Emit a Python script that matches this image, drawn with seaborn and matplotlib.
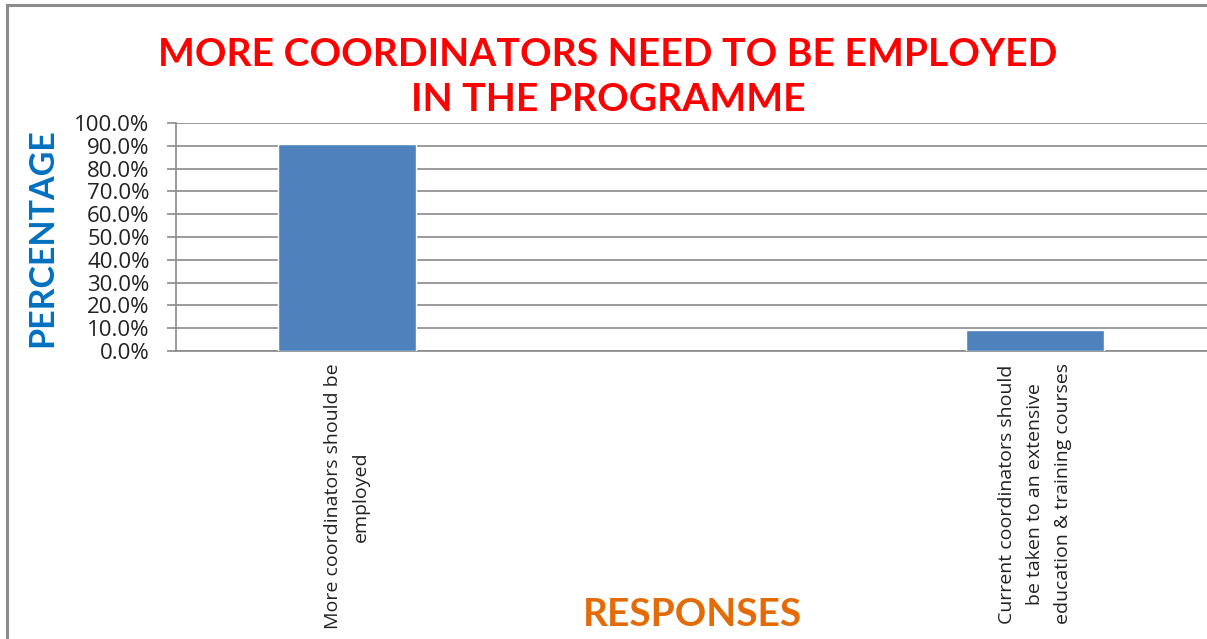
import matplotlib
matplotlib.use("Agg")
import matplotlib.pyplot as plt
from matplotlib.ticker import PercentFormatter, MultipleLocator
from matplotlib.patches import Rectangle
import seaborn as sns
import pandas as pd

# Survey responses and their share of respondents
responses = [
    "More coordinators should be\nemployed",
    "Current coordinators should\nbe taken to an extensive\neducation & training courses",
]
percentages = [90.9, 9.1]

title = "MORE COORDINATORS NEED TO BE EMPLOYED\nIN THE PROGRAMME"
x_label = "RESPONSES"
y_label = "PERCENTAGE"

df = pd.DataFrame({"response": responses, "pct": percentages})

sns.set_theme(style="white")
plt.rcParams["font.family"] = ["Lato", "DejaVu Sans"]

W, H = 1207, 639
fig = plt.figure(figsize=(W / 100, H / 100), dpi=100)

# outer chart frame
fig.patches.append(Rectangle((7 / W, -0.01), 1.2, 1 - 5 / H + 0.01, transform=fig.transFigure,
                             fill=False, edgecolor="#8c8c8c", linewidth=2.2, zorder=0))

ax = fig.add_axes([176 / W, 1 - 351 / H, (W - 176) / W, (351 - 123) / H])

sns.barplot(data=df, x="response", y="pct", color="#4F81BD", width=0.2,
            saturation=1, ax=ax, zorder=3)

ax.set_xlim(-0.2485, 1.25)
ax.set_ylim(0, 100)
ax.yaxis.set_major_locator(MultipleLocator(10))
ax.yaxis.set_major_formatter(PercentFormatter(decimals=1))
ax.grid(axis="y", color="#8a8a8a", linewidth=1.2, zorder=0)
ax.grid(axis="x", visible=False)

for side in ["top", "right"]:
    ax.spines[side].set_visible(False)
ax.spines["left"].set_color("#8a8a8a")
ax.spines["left"].set_linewidth(1.2)
ax.spines["bottom"].set_color("#8a8a8a")
ax.spines["bottom"].set_linewidth(1.2)

tick_font = ["Open Sans", "DejaVu Sans"]
ax.tick_params(axis="y", left=True, length=6.5, width=1.2, color="#8a8a8a",
               labelcolor="#222222", pad=12.5)
ax.tick_params(axis="x", bottom=False, labelcolor="#222222", pad=3)
for lbl in ax.get_yticklabels():
    lbl.set_family(tick_font)
    lbl.set_fontsize(16)
for lbl in ax.get_xticklabels():
    lbl.set_family(tick_font)
    lbl.set_fontsize(14)
    lbl.set_rotation(90)
    lbl.set_multialignment("center")
    lbl.set_linespacing(1.72)
    lbl.set_va("top")
    lbl.set_ha("center")

ax.set_xlabel("")
ax.set_ylabel("")

fig.text(608 / W, 1 - 77 / H, title, ha="center", va="center", color="#FF0000",
         fontsize=28.2, fontweight="bold", linespacing=1.35)
fig.text(42 / W, 1 - 238 / H, y_label, ha="center", va="center", rotation=90,
         color="#0070C0", fontsize=24.5, fontweight="bold")
fig.text(692 / W, 1 - 614 / H, x_label, ha="center", va="center",
         color="#E36C09", fontsize=28, fontweight="bold")

fig.savefig("out.png", dpi=100)
